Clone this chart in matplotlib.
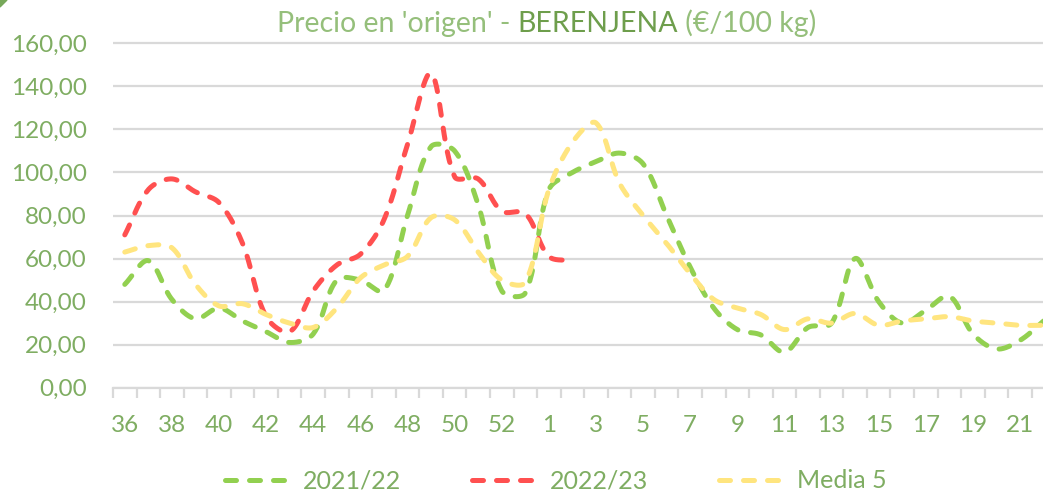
import numpy as np
import matplotlib
matplotlib.use("Agg")
import matplotlib.pyplot as plt
from matplotlib.lines import Line2D
from matplotlib.patches import Polygon

# ---------------- data ----------------
weeks = [str(w) for w in list(range(36, 54)) + list(range(1, 23))]

s2021_22 = [48, 59, 41, 32, 37, 31, 26, 21, 25, 50,
            50, 45, 80, 112, 110, 85, 45, 44, 92, 100,
            105, 109, 104, 80, 56, 37, 27, 24.5, 16.5, 28,
            30, 60, 40, 30, 36, 42.5, 25, 18, 22, 31]

s2022_23 = [71, 92, 97, 91, 86, 67, 33, 26, 45, 57,
            62, 78, 113, 146, 98, 97, 82, 81, 61, 59]

media5 = [63, 66, 65, 48, 38, 39, 34, 30, 28, 37,
          51, 57, 61, 79, 78, 63, 50, 49, 92, 114,
          123, 95, 80, 67, 53, 41, 37, 34, 27, 32,
          30, 34.5, 29, 31, 32, 33, 31, 30, 29, 29]

series_names = ["2021/22", "2022/23", "Media 5"]
y_ticks = [0, 20, 40, 60, 80, 100, 120, 140, 160]

# ---------------- style ----------------
FONT = "Lato"
TXT = "#7FAD62"
GRID = "#D9D9D9"
COLORS = ["#92D050", "#FF5050", "#FFE57F"]
LW = 3.6
DASH = (0, (2.2, 2.6))

W, H = 1043, 497
fig = plt.figure(figsize=(W / 100, H / 100), dpi=100)

PX_Y = 2.1525  # pixels per unit value
ax_left, ax_bottom = 113, H - 387.7
ncat = len(weeks)
CAT_W = 23.56  # pixels per category
ax = fig.add_axes([ax_left / W, ax_bottom / H, ncat * CAT_W / W, 162 * PX_Y / H])
ax.set_xlim(-0.5, ncat - 0.5)
ax.set_ylim(0, 162)


def excel_smooth(y, n=30, tension=1.0 / 3.0):
    """Bezier smoothing in screen space with chord-length weighted control points."""
    y = np.asarray(y, float)
    x = np.arange(len(y), dtype=float)
    pts = np.column_stack([x * CAT_W, y * PX_Y])
    m = len(pts)
    out = []
    for k in range(m - 1):
        p0 = pts[k - 1] if k > 0 else pts[k]
        p1 = pts[k]
        p2 = pts[k + 1]
        p3 = pts[k + 2] if k + 2 < m else pts[k + 1]
        l01 = np.hypot(*(p1 - p0))
        l12 = np.hypot(*(p2 - p1))
        l23 = np.hypot(*(p3 - p2))
        f1 = l12 / (l01 + l12) if (l01 + l12) > 0 else 0
        f2 = l12 / (l12 + l23) if (l12 + l23) > 0 else 0
        c1 = p1 + (p2 - p0) * tension * f1
        c2 = p2 - (p3 - p1) * tension * f2
        t = np.linspace(0, 1, n, endpoint=(k == m - 2))[:, None]
        b = ((1 - t) ** 3) * p1 + 3 * ((1 - t) ** 2) * t * c1 + 3 * (1 - t) * t ** 2 * c2 + t ** 3 * p2
        out.append(b)
    out = np.vstack(out)
    return out[:, 0] / CAT_W, out[:, 1] / PX_Y


for vals, col, z in zip([s2021_22, s2022_23, media5], COLORS, [3, 4, 5]):
    xs, ys = excel_smooth(vals)
    ax.plot(xs, ys, color=col, lw=LW, linestyle=DASH,
            dash_capstyle="round", solid_capstyle="round", zorder=z)

# grid & axes
ax.set_yticks(y_ticks)
ax.set_yticklabels([f"{v:.2f}".replace(".", ",") for v in y_ticks])
ax.yaxis.grid(True, color=GRID, lw=1.6, zorder=0)
ax.set_axisbelow(True)
for s in ["left", "right", "top"]:
    ax.spines[s].set_visible(False)
ax.spines["bottom"].set_color(GRID)
ax.spines["bottom"].set_linewidth(1.6)
ax.tick_params(axis="y", length=0, pad=19, labelsize=17.5, labelcolor=TXT)
for lab in ax.get_yticklabels():
    lab.set_fontfamily(FONT)

major = list(range(0, ncat, 2))
ax.set_xticks(major)
ax.set_xticklabels([weeks[i] for i in major])
ax.set_xticks(np.arange(-0.5, ncat, 1.0), minor=True)
ax.tick_params(axis="x", which="major", length=0, pad=20, labelsize=17.5, labelcolor=TXT)
ax.tick_params(axis="x", which="minor", length=7, width=1.6, color=GRID, direction="out")
for lab in ax.get_xticklabels():
    lab.set_fontfamily(FONT)

# legend
handles = [Line2D([0], [0], color=c, lw=LW, linestyle=DASH, dash_capstyle="round")
           for c in COLORS]
leg = fig.legend(handles, series_names, loc="center", bbox_to_anchor=(556 / W, 16 / H),
                 ncol=3, frameon=False, handlelength=2.56, handletextpad=0.56,
                 columnspacing=2.84, prop={"family": FONT, "size": 18})
for t in leg.get_texts():
    t.set_color(TXT)

# title in pieces
fig.canvas.draw()
r = fig.canvas.get_renderer()
pieces = [("Precio en 'origen' - ", "normal", "#95BF7B"),
          ("BERENJENA", "normal", "#6E9E4C"),
          (" (€/100 kg)", "normal", "#95BF7B")]
fs = 20
texts = []
for s, wgt, c in pieces:
    texts.append(fig.text(0, 0, s, fontsize=fs, fontweight=wgt, color=c,
                          family=FONT, va="baseline", ha="left"))
widths = [t.get_window_extent(r).width for t in texts]
scale = 540.0 / sum(widths)
for t in texts:
    t.set_fontsize(fs * scale)
widths = [t.get_window_extent(r).width for t in texts]
x = 277.0
for t, w in zip(texts, widths):
    t.set_position((x / W, (H - 32) / H))
    x += w

fig.patches.append(Polygon([[0, 1], [7 / W, 1], [0, 1 - 7 / H]], closed=True,
                           transform=fig.transFigure, color="#77A85A", figure=fig))

fig.savefig("out.png", dpi=100)
